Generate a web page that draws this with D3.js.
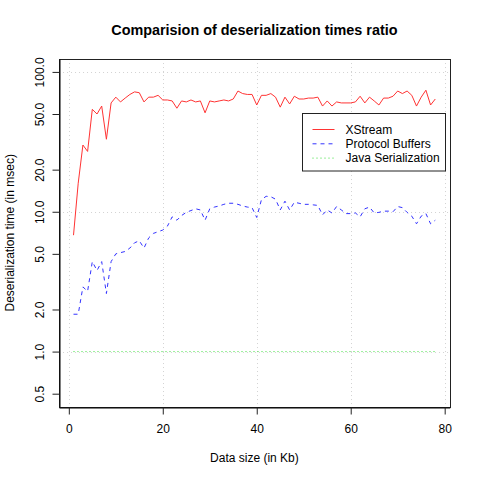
<!DOCTYPE html>
<html>
<head>
<meta charset="utf-8">
<script src="https://cdn.jsdelivr.net/npm/d3@7"></script>
<style>
  body { margin: 0; background: #fff; }
  svg { display: block; font-family: "Liberation Sans", Arial, Helvetica, sans-serif; }
</style>
</head>
<body>
<div id="svg-container"></div>
<script>
////////////////////////////////////////////////////////////////////
////////////////////////////  Data  ////////////////////////////////
const sizes = [1, 2, 3, 4, 5, 6, 7, 8, 9, 10, 11, 12, 13, 14, 15, 16, 17, 18, 19, 20,
  21, 22, 23, 24, 25, 26, 27, 28, 29, 30, 31, 32, 33, 34, 35, 36, 37, 38, 39, 40,
  41, 42, 43, 44, 45, 46, 47, 48, 49, 50, 51, 52, 53, 54, 55, 56, 57, 58, 59, 60,
  61, 62, 63, 64, 65, 66, 67, 68, 69, 70, 71, 72, 73, 74, 75, 76, 77, 78];

const xstream = [6.8, 16, 30, 27, 54, 50, 57, 33, 60, 66,
  61, 65, 69, 72, 71, 61, 66, 66, 68, 63,
  63, 62, 55, 62, 61, 63, 61, 62, 51, 62,
  61, 62, 63, 62, 64, 73, 70, 69, 69, 58,
  68, 68, 70, 66, 56, 66, 59, 67, 64, 64,
  65, 65, 66, 57, 62, 57, 61, 60, 60, 60,
  61, 67, 60, 66, 62, 58, 65, 65, 67, 73,
  70, 73, 68, 57, 66, 74, 58, 64];

const protobuf = [1.85, 1.85, 2.9, 2.7, 4.4, 3.8, 4.4, 2.6, 4.4, 5.0,
  5.1, 5.2, 5.5, 6.0, 6.2, 5.5, 6.5, 7.0, 7.2, 7.4,
  7.9, 9.2, 8.7, 9.4, 9.9, 10.2, 10.5, 10.3, 8.7, 10.5,
  10.8, 11.0, 11.3, 11.5, 11.5, 11.3, 11.0, 10.8, 10.7, 9.1,
  12.2, 12.9, 12.8, 12.3, 10.3, 11.9, 10.3, 11.7, 11.5, 11.3,
  11.3, 11.2, 11.1, 9.5, 10.3, 9.8, 10.9, 10.3, 9.7, 9.7,
  9.8, 9.2, 10.5, 10.8, 9.8, 9.9, 10.1, 10.1, 10.0, 10.9,
  10.7, 9.9, 9.3, 8.2, 9.3, 9.7, 8.2, 8.7];

const javaSer = [1, 1, 1, 1, 1, 1, 1, 1, 1, 1, 1, 1, 1, 1, 1, 1, 1, 1, 1, 1,
  1, 1, 1, 1, 1, 1, 1, 1, 1, 1, 1, 1, 1, 1, 1, 1, 1, 1, 1, 1,
  1, 1, 1, 1, 1, 1, 1, 1, 1, 1, 1, 1, 1, 1, 1, 1, 1, 1, 1, 1,
  1, 1, 1, 1, 1, 1, 1, 1, 1, 1, 1, 1, 1, 1, 1, 1, 1, 1];

const xTicks = [0, 20, 40, 60, 80];
const yTicks = [0.5, 1, 2, 5, 10, 20, 50, 100];
const yGrid = [1, 10, 100];
const seriesNames = ["XStream", "Protocol Buffers", "Java Serialization"];

////////////////////////////////////////////////////////////////////
////////////////////////////  Init  ////////////////////////////////
const width = 480;
const height = 480;
// plot region (R default margins at 72 dpi)
const plot = { left: 59.04, right: 449.76, top: 59.04, bottom: 406.56 };

const colors = ["#ff3333", "#3333ff", "#33dd33"];
const dashes = [null, "4,4", "1,3"];

const svg = d3.select("#svg-container").append("svg")
  .attr("width", width)
  .attr("height", height);

// scales, 4% padding like R
const xlim = [1, 78];
const xpad = (xlim[1] - xlim[0]) * 0.04;
const x = d3.scaleLinear()
  .domain([xlim[0] - xpad, xlim[1] + xpad])
  .range([plot.left, plot.right]);

const ylim = [Math.log10(0.5), Math.log10(100)];
const ypad = (ylim[1] - ylim[0]) * 0.04;
const y = d3.scaleLog()
  .domain([Math.pow(10, ylim[0] - ypad), Math.pow(10, ylim[1] + ypad)])
  .range([plot.bottom, plot.top]);

////////////////////////////////////////////////////////////////////
////////////////////////////  Grid  ////////////////////////////////
svg.selectAll(".vgrid")
  .data(xTicks)
  .enter()
  .append("line")
  .attr("x1", (d) => Math.round(x(d)) + 0.5)
  .attr("x2", (d) => Math.round(x(d)) + 0.5)
  .attr("y1", plot.top)
  .attr("y2", plot.bottom)
  .attr("stroke", "#d3d3d3")
  .attr("stroke-dasharray", "1,3");

svg.selectAll(".hgrid")
  .data(yGrid)
  .enter()
  .append("line")
  .attr("x1", plot.left)
  .attr("x2", plot.right)
  .attr("y1", (d) => Math.round(y(d)) + 0.5)
  .attr("y2", (d) => Math.round(y(d)) + 0.5)
  .attr("stroke", "#d3d3d3")
  .attr("stroke-dasharray", "1,3");

////////////////////////////////////////////////////////////////////
////////////////////////////  Lines  ///////////////////////////////
const line = d3.line()
  .x((d, i) => x(sizes[i]))
  .y((d) => y(d));

[xstream, protobuf, javaSer].forEach((series, i) => {
  svg.append("path")
    .datum(series)
    .attr("d", line)
    .attr("fill", "none")
    .attr("stroke", colors[i])
    .attr("stroke-width", 1)
    .attr("stroke-dasharray", dashes[i]);
});

////////////////////////////////////////////////////////////////////
////////////////////////////  Axes  ////////////////////////////////
// box
svg.append("rect")
  .attr("x", Math.round(plot.left) + 0.5)
  .attr("y", Math.round(plot.top) + 0.5)
  .attr("width", Math.round(plot.right) - Math.round(plot.left))
  .attr("height", Math.round(plot.bottom) - Math.round(plot.top))
  .attr("fill", "none")
  .attr("stroke", "#222");

const xAxis = svg.append("g")
  .attr("transform", `translate(0, ${Math.round(plot.bottom) + 0.5})`)
  .call(d3.axisBottom(x).tickValues(xTicks).tickSize(7).tickPadding(10).tickSizeOuter(0));

const yAxis = svg.append("g")
  .attr("transform", `translate(${Math.round(plot.left) + 0.5}, 0)`)
  .call(d3.axisLeft(y).tickValues(yTicks).tickSize(7).tickFormat(d3.format(".1f")).tickSizeOuter(0));

[xAxis, yAxis].forEach((ax) => {
  ax.select(".domain").attr("stroke", "#000");
  ax.selectAll(".tick line").attr("stroke", "#222");
  ax.selectAll("text")
    .attr("fill", "#000")
    .style("font-size", "12px")
    .style("font-family", "'Liberation Sans', Arial, sans-serif");
});

// rotated y tick labels, parallel to axis
yAxis.selectAll(".tick text")
  .attr("x", null)
  .attr("dy", null)
  .attr("text-anchor", "middle")
  .attr("transform", "translate(-15.5, 0) rotate(-90)");

xAxis.selectAll(".tick text").attr("dy", "0.71em").attr("y", 17);

// titles
svg.append("text")
  .attr("x", (plot.left + plot.right) / 2)
  .attr("y", 35)
  .attr("text-anchor", "middle")
  .style("font-size", "14.4px")
  .style("font-weight", "bold")
  .text("Comparision of deserialization times ratio");

svg.append("text")
  .attr("x", (plot.left + plot.right) / 2)
  .attr("y", 462)
  .attr("text-anchor", "middle")
  .style("font-size", "12px")
  .text("Data size (in Kb)");

svg.append("text")
  .attr("transform", `translate(13.5, ${(plot.top + plot.bottom) / 2}) rotate(-90)`)
  .attr("text-anchor", "middle")
  .style("font-size", "12px")
  .text("Deserialization time (in msec)");

////////////////////////////////////////////////////////////////////
////////////////////////////  Legend  //////////////////////////////
const legend = svg.append("g");

legend.append("rect")
  .attr("x", 302.5)
  .attr("y", 113.5)
  .attr("width", 143)
  .attr("height", 57.5)
  .attr("fill", "#fff")
  .attr("stroke", "#222");

const items = legend.selectAll(".item")
  .data(seriesNames)
  .enter()
  .append("g")
  .attr("transform", (d, i) => `translate(0, ${129 + i * 14.3})`);

items.append("line")
  .attr("x1", 312.5)
  .attr("x2", 334.5)
  .attr("y1", 0.5)
  .attr("y2", 0.5)
  .attr("stroke", (d, i) => colors[i])
  .attr("stroke-dasharray", (d, i) => dashes[i]);

items.append("text")
  .attr("x", 345.5)
  .attr("y", 4.5)
  .style("font-size", "12px")
  .text((d) => d);
</script>
</body>
</html>
